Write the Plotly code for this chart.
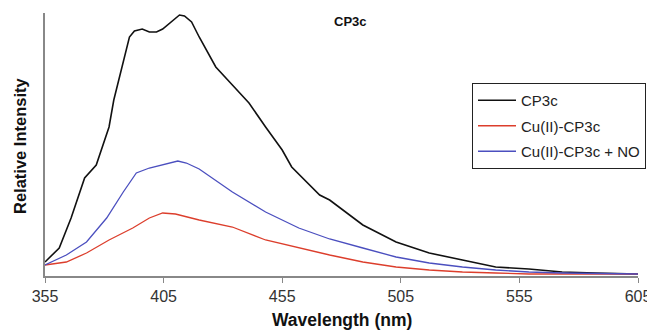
import plotly.graph_objects as go

# Wavelength (nm) and relative intensity (arbitrary units)
wl_black = [355, 361, 366, 371.7, 376.6, 382, 384, 387.7, 390.6, 392.7, 396, 399, 402, 404.6,
            408, 411.7, 413.8, 416.8, 420, 423.6, 427, 434, 441, 448, 455, 459, 470.8, 475,
            489, 503, 517, 531, 545, 559, 573, 587, 605]
int_black = [14, 28, 58, 98, 111, 149, 176, 213, 239, 245, 247, 244, 244, 247,
             254, 261, 260, 254, 239, 223, 209, 191, 173, 149, 126, 109, 81, 76,
             51, 34, 23, 16, 9, 7, 4, 3, 2]

wl_red = [355, 364, 372.5, 382, 392, 399, 404.6, 410, 420, 434, 448, 462, 475,
          489, 503, 517, 531, 545, 559, 605]
int_red = [11, 14, 23, 36, 48, 58, 63, 62, 56, 49, 36, 28, 21,
           14, 9, 6, 4, 3, 2, 2]

wl_blue = [355, 364, 372.5, 381, 388, 393.5, 399, 404.6, 411, 414.6, 420, 434, 448, 462, 475,
           489, 503, 517, 531, 545, 559, 573, 605]
int_blue = [11, 21, 34, 58, 84, 103, 108, 111, 115, 113, 107, 84, 64, 48, 37,
            28, 19, 13, 9, 6, 4, 3, 2]

x_ticks = [355, 405, 455, 505, 555, 605]
series_names = ["CP3c", "Cu(II)-CP3c", "Cu(II)-CP3c + NO"]

# page body has an 8px default margin; size the figure so it fits the 655x335 window
OFF = 8
W, H = 655 - OFF, 335 - OFF
px_left, px_right, px_top, px_bottom = 45, 638, 13, 276   # plot area in window pixels
L, T = px_left - OFF, px_top - OFF
R, B = W - (px_right - OFF), H - (px_bottom - OFF)
pw, ph = px_right - px_left, px_bottom - px_top


def fx(px):
    return (px - px_left) / pw


def fy(py):
    return (px_bottom - py) / ph


fig = go.Figure()
fig.add_trace(go.Scatter(x=wl_black, y=int_black, mode="lines", name=series_names[0],
                         legendgroup="a", line=dict(color="#111111", width=1.6)))
fig.add_trace(go.Scatter(x=wl_red, y=int_red, mode="lines", name=series_names[1],
                         legendgroup="b", line=dict(color="#dc3e2c", width=1.3)))
fig.add_trace(go.Scatter(x=wl_blue, y=int_blue, mode="lines", name=series_names[2],
                         legendgroup="c", line=dict(color="#4b4fbf", width=1.3)))

fig.update_layout(
    width=W, height=H,
    margin=dict(l=L, r=R, t=T, b=B),
    paper_bgcolor="white", plot_bgcolor="white",
    font=dict(family="Liberation Sans, Arial, sans-serif", color="#222"),
    showlegend=True,
    legend=dict(x=fx(472), y=fy(83), xanchor="left", yanchor="top",
                bordercolor="#222", borderwidth=1, bgcolor="white", itemwidth=38,
                font=dict(size=15, color="#222"), tracegroupgap=3),
    xaxis=dict(range=[355, 605], tickvals=x_ticks, ticktext=[str(t) for t in x_ticks],
               showgrid=False, zeroline=False, showline=True, linecolor="#888", linewidth=1.5,
               ticks="outside", ticklen=5, tickcolor="#888", tickfont=dict(size=16, color="#333")),
    yaxis=dict(range=[0, 263], showgrid=False, zeroline=False, showline=True, linecolor="#888",
               linewidth=1.5, showticklabels=False, ticks=""),
    annotations=[
        dict(text="<b>CP3c</b>", x=fx(350), y=fy(22), xref="paper", yref="paper",
             xanchor="center", yanchor="middle", showarrow=False, font=dict(size=13, color="#111")),
        dict(text="<b>Wavelength (nm)</b>", xref="paper", yref="paper", x=fx(342), y=0,
             yshift=-(320 - px_bottom), yanchor="middle", xanchor="center", showarrow=False,
             font=dict(size=17.5, color="#111")),
        dict(text="<b>Relative Intensity</b>", xref="paper", yref="paper", x=0, xshift=-(px_left - 20),
             y=fy(146), textangle=-90, showarrow=False, xanchor="center", yanchor="middle",
             font=dict(size=16.5, color="#111")),
    ],
)

fig.write_html("out.html", config={"displayModeBar": False})
